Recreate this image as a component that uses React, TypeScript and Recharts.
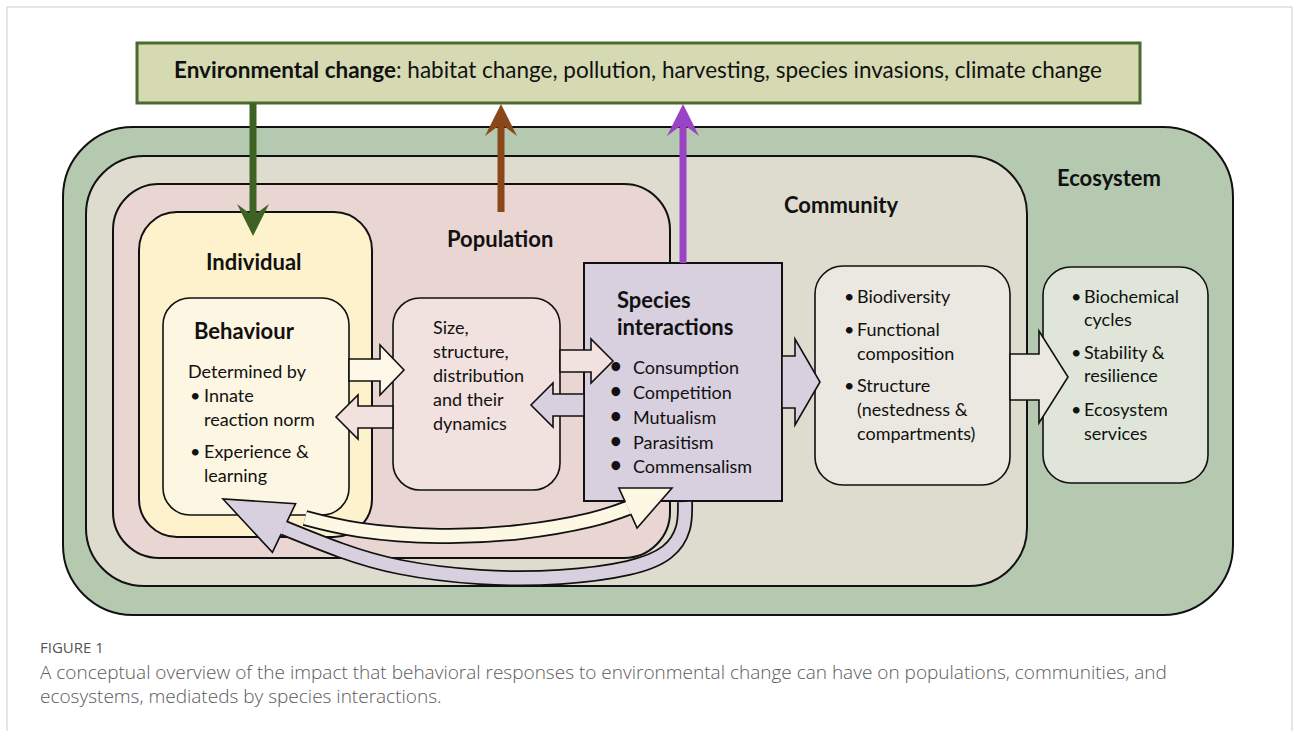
import React from "react";
import { ComposedChart, XAxis, YAxis, ReferenceArea, ReferenceLine, Line, Scatter } from "recharts";

const W = 1293;
const H = 731;
const FONT = "Lato, 'Open Sans', sans-serif";
const CAPTION_FONT = "'Open Sans', Lato, sans-serif";

// nested panels, drawn outer to inner
const panels = [
  { name: "env", x1: 137, y1: 43, x2: 1140, y2: 103, r: 0 },
  { name: "ecosystem", x1: 63, y1: 127, x2: 1233, y2: 615, r: 70 },
  { name: "community", x1: 86, y1: 156, x2: 1027, y2: 586, r: 58 },
  { name: "population", x1: 113, y1: 184, x2: 670, y2: 558, r: 46 },
  { name: "individual", x1: 139, y1: 212, x2: 372, y2: 537, r: 38 },
  { name: "behaviour", x1: 163, y1: 298, x2: 349, y2: 515, r: 27 },
  { name: "popBox", x1: 393, y1: 298, x2: 560, y2: 490, r: 27 },
  { name: "species", x1: 584, y1: 263, x2: 782, y2: 501, r: 0 },
  { name: "commBox", x1: 815, y1: 266, x2: 1010, y2: 485, r: 28 },
  { name: "ecoBox", x1: 1043, y1: 267, x2: 1208, y2: 483, r: 28 },
];

const panelStyle: Record<string, { fill: string; stroke: string; sw: number }> = {
  env: { fill: "#d5dab2", stroke: "#4b6a2b", sw: 3 },
  ecosystem: { fill: "#b5c9b0", stroke: "#111", sw: 2 },
  community: { fill: "#dedbcf", stroke: "#111", sw: 2 },
  population: { fill: "#e9d5d2", stroke: "#111", sw: 2 },
  individual: { fill: "#fdf2cc", stroke: "#111", sw: 2 },
  behaviour: { fill: "#fdf6e2", stroke: "#111", sw: 1.6 },
  popBox: { fill: "#f1e1df", stroke: "#111", sw: 1.6 },
  species: { fill: "#d8d0df", stroke: "#111", sw: 2 },
  commBox: { fill: "#eae8e0", stroke: "#111", sw: 1.6 },
  ecoBox: { fill: "#dfe6d9", stroke: "#111", sw: 1.6 },
};

// straight block arrows: tail -> tip
const blockArrows = [
  { from: [349, 370], to: [404, 370], kind: "cream" },
  { from: [393, 417], to: [336, 417], kind: "pink" },
  { from: [560, 361], to: [613, 361], kind: "pink" },
  { from: [584, 405], to: [531, 405], kind: "lavender" },
  { from: [782, 382], to: [820, 382], kind: "lavenderBig" },
  { from: [1010, 377], to: [1068, 377], kind: "greyBig" },
];

const blockStyle: Record<string, { fill: string; w: number; hw: number; hl: number }> = {
  cream: { fill: "#fdf8e8", w: 11, hw: 25, hl: 24 },
  pink: { fill: "#f1e1df", w: 11, hw: 22, hl: 22 },
  lavender: { fill: "#d8d0df", w: 11, hw: 22, hl: 22 },
  lavenderBig: { fill: "#d8d0df", w: 26, hw: 43, hl: 25 },
  greyBig: { fill: "#eae8e0", w: 23, hw: 46, hl: 29 },
};

// thin arrows between the environment box and the levels
const thinArrows = [
  { from: [253, 103], to: [253, 236], color: "#3d6223" },
  { from: [501, 212], to: [501, 104], color: "#8a4719" },
  { from: [683, 263], to: [683, 104], color: "#9a43c6" },
];

// curved feedback arrows (centre lines)
const lavenderCurve = [
  { x: 685, y: 502 }, { x: 683, y: 528 }, { x: 667, y: 552 }, { x: 628, y: 568 },
  { x: 560, y: 577 }, { x: 480, y: 577 }, { x: 400, y: 567 }, { x: 340, y: 550 }, { x: 284, y: 528 },
];
const creamCurve = [
  { x: 305, y: 518 }, { x: 360, y: 530 }, { x: 440, y: 536 }, { x: 520, y: 532 },
  { x: 590, y: 520 }, { x: 628, y: 508 },
];
const curveHeads = [
  { from: [284, 528], to: [223, 499], fill: "#d8d0df", w: 6.5, hw: 27 },
  { from: [628, 508], to: [672, 488], fill: "#fdf8e4", w: 6.5, hw: 22 },
];

const headings = [
  { x: 1057, y: 186, text: "Ecosystem" },
  { x: 784, y: 213, text: "Community" },
  { x: 447, y: 247, text: "Population" },
  { x: 206, y: 270, text: "Individual" },
  { x: 194, y: 339, text: "Behaviour" },
  { x: 617, y: 308, text: "Species" },
  { x: 617, y: 335, text: "interactions" },
];

const bodyLines = [
  { x: 188, y: 378, text: "Determined by" },
  { x: 204, y: 402, text: "Innate" },
  { x: 204, y: 426, text: "reaction norm" },
  { x: 204, y: 458, text: "Experience &" },
  { x: 204, y: 482, text: "learning" },
  { x: 433, y: 334, text: "Size," },
  { x: 433, y: 358, text: "structure," },
  { x: 433, y: 382, text: "distribution" },
  { x: 433, y: 406, text: "and their" },
  { x: 433, y: 430, text: "dynamics" },
  { x: 633, y: 374, text: "Consumption" },
  { x: 633, y: 399, text: "Competition" },
  { x: 633, y: 424, text: "Mutualism" },
  { x: 633, y: 449, text: "Parasitism" },
  { x: 633, y: 473, text: "Commensalism" },
  { x: 857, y: 303, text: "Biodiversity" },
  { x: 857, y: 336, text: "Functional" },
  { x: 857, y: 360, text: "composition" },
  { x: 857, y: 392, text: "Structure" },
  { x: 857, y: 416, text: "(nestedness &" },
  { x: 857, y: 440, text: "compartments)" },
  { x: 1084, y: 303, text: "Biochemical" },
  { x: 1084, y: 326, text: "cycles" },
  { x: 1084, y: 359, text: "Stability &" },
  { x: 1084, y: 382, text: "resilience" },
  { x: 1084, y: 416, text: "Ecosystem" },
  { x: 1084, y: 440, text: "services" },
];

const smallBullets = [
  { x: 190, y: 402 }, { x: 190, y: 458 },
  { x: 844, y: 303 }, { x: 844, y: 336 }, { x: 844, y: 392 },
  { x: 1071, y: 303 }, { x: 1071, y: 359 }, { x: 1071, y: 416 },
];
const bigBullets = [
  { x: 610, y: 373 }, { x: 610, y: 398 }, { x: 610, y: 423 }, { x: 610, y: 448 }, { x: 610, y: 472 },
];

const envTitle = { x: 174, y: 78, bold: "Environmental change", text: ": habitat change, pollution, harvesting, species invasions, climate change" };

const captionLines = [
  { x: 40, y: 653, text: "FIGURE 1", kind: "figLabel" },
  { x: 40, y: 679, text: "A conceptual overview of the impact that behavioral responses to environmental change can have on populations, communities, and", kind: "caption" },
  { x: 40, y: 703, text: "ecosystems, mediateds by species interactions.", kind: "caption" },
];

const frame = [
  [[7, 7], [7, 731]],
  [[7, 7], [1292, 7]],
  [[1292, 7], [1292, 731]],
];

const textStyle: Record<string, any> = {
  heading: { fontSize: 22, fontWeight: 700, fill: "#111", family: FONT },
  body: { fontSize: 18, fontWeight: 400, fill: "#111", family: FONT },
  dot: { fontSize: 18, fontWeight: 400, fill: "#111", family: FONT },
  bigDot: { fontSize: 20, fontWeight: 700, fill: "#111", family: FONT },
  env: { fontSize: 22.5, fontWeight: 400, fill: "#111", family: FONT },
  figLabel: { fontSize: 15, fontWeight: 400, fill: "#555", family: CAPTION_FONT },
  caption: { fontSize: 19, fontWeight: 300, fill: "#5a5a5a", family: CAPTION_FONT },
};

const textItems = [
  ...headings.map((d) => ({ ...d, kind: "heading" })),
  ...bodyLines.map((d) => ({ ...d, kind: "body" })),
  ...smallBullets.map((d) => ({ ...d, text: "•", kind: "dot" })),
  ...bigBullets.map((d) => ({ ...d, text: "•", kind: "bigDot" })),
  { ...envTitle, kind: "env" },
  ...captionLines,
];

function unit(x1: number, y1: number, x2: number, y2: number) {
  const L = Math.hypot(x2 - x1, y2 - y1) || 1;
  const ux = (x2 - x1) / L;
  const uy = (y2 - y1) / L;
  return { ux, uy, nx: -uy, ny: ux };
}

const pts = (a: number[][]) => a.map((p) => p.join(",")).join(" ");

function BlockArrow(props: any, kind: string) {
  const { x1, y1, x2, y2 } = props;
  const s = blockStyle[kind];
  const { ux, uy, nx, ny } = unit(x1, y1, x2, y2);
  const bx = x2 - ux * s.hl;
  const by = y2 - uy * s.hl;
  const poly = [
    [x1 + nx * s.w, y1 + ny * s.w],
    [bx + nx * s.w, by + ny * s.w],
    [bx + nx * s.hw, by + ny * s.hw],
    [x2, y2],
    [bx - nx * s.hw, by - ny * s.hw],
    [bx - nx * s.w, by - ny * s.w],
    [x1 - nx * s.w, y1 - ny * s.w],
  ];
  return <polygon points={pts(poly)} fill={s.fill} stroke="#111" strokeWidth={1.6} strokeLinejoin="miter" />;
}

function ThinArrow(props: any, color: string) {
  const { x1, y1, x2, y2 } = props;
  const { ux, uy, nx, ny } = unit(x1, y1, x2, y2);
  const hl = 32;
  const hw = 16;
  const notch = 20;
  const bx = x2 - ux * hl;
  const by = y2 - uy * hl;
  const mx = x2 - ux * notch;
  const my = y2 - uy * notch;
  return (
    <g>
      <line x1={x1} y1={y1} x2={mx} y2={my} stroke={color} strokeWidth={7} />
      <polygon points={pts([[x2, y2], [bx + nx * hw, by + ny * hw], [mx, my], [bx - nx * hw, by - ny * hw]])} fill={color} />
    </g>
  );
}

function CurveHead(props: any, h: { fill: string; w: number; hw: number }) {
  const { x1, y1, x2, y2 } = props;
  const { nx, ny } = unit(x1, y1, x2, y2);
  const a = [x1 + nx * h.hw, y1 + ny * h.hw];
  const b = [x1 - nx * h.hw, y1 - ny * h.hw];
  const aw = [x1 + nx * h.w, y1 + ny * h.w];
  const bw = [x1 - nx * h.w, y1 - ny * h.w];
  return (
    <g>
      <polygon points={pts([a, [x2, y2], b])} fill={h.fill} />
      <polyline points={pts([aw, a, [x2, y2], b, bw])} fill="none" stroke="#111" strokeWidth={1.6} />
    </g>
  );
}

function TextMark(props: any) {
  const { cx, cy, payload } = props;
  if (cx == null || cy == null) return <g />;
  const st = textStyle[payload.kind];
  return (
    <text x={cx} y={cy} fontFamily={st.family} fontSize={st.fontSize} fontWeight={st.fontWeight} fill={st.fill} textAnchor="start">
      {payload.bold ? (
        <>
          <tspan fontWeight={700}>{payload.bold}</tspan>
          <tspan>{payload.text}</tspan>
        </>
      ) : (
        payload.text
      )}
    </text>
  );
}

export default function App() {
  return (
    <div style={{ position: "absolute", left: 0, top: 0, width: W, height: H, background: "#fff" }}>
      <ComposedChart width={W} height={H} margin={{ top: 0, right: 0, bottom: 0, left: 0 }}>
        <XAxis type="number" dataKey="x" domain={[0, W]} hide allowDataOverflow />
        <YAxis type="number" dataKey="y" domain={[0, H]} reversed hide allowDataOverflow />

        {frame.map((seg, i) => (
          <ReferenceLine
            key={"f" + i}
            segment={[{ x: seg[0][0], y: seg[0][1] }, { x: seg[1][0], y: seg[1][1] }]}
            stroke="#cdcdcd"
            strokeWidth={1}
            ifOverflow="visible"
          />
        ))}

        {panels.map((p) => {
          const st = panelStyle[p.name];
          return (
            <ReferenceArea
              key={p.name}
              x1={p.x1}
              x2={p.x2}
              y1={p.y1}
              y2={p.y2}
              ifOverflow="visible"
              shape={(s: any) => (
                <rect
                  x={s.x}
                  y={s.y}
                  width={s.width}
                  height={s.height}
                  rx={p.r}
                  ry={p.r}
                  fill={st.fill}
                  stroke={st.stroke}
                  strokeWidth={st.sw}
                />
              )}
            />
          );
        })}

        {blockArrows.map((a, i) => (
          <ReferenceLine
            key={"b" + i}
            segment={[{ x: a.from[0], y: a.from[1] }, { x: a.to[0], y: a.to[1] }]}
            ifOverflow="visible"
            shape={(p: any) => BlockArrow(p, a.kind)}
          />
        ))}

        <Line data={lavenderCurve} dataKey="y" type="natural" stroke="#111" strokeWidth={16} dot={false} activeDot={false} isAnimationActive={false} />
        <Line data={lavenderCurve} dataKey="y" type="natural" stroke="#d8d0df" strokeWidth={12.5} dot={false} activeDot={false} isAnimationActive={false} />
        <Line data={creamCurve} dataKey="y" type="natural" stroke="#111" strokeWidth={16} dot={false} activeDot={false} isAnimationActive={false} />
        <Line data={creamCurve} dataKey="y" type="natural" stroke="#fdf8e4" strokeWidth={12.5} dot={false} activeDot={false} isAnimationActive={false} />

        {curveHeads.map((h, i) => (
          <ReferenceLine
            key={"h" + i}
            segment={[{ x: h.from[0], y: h.from[1] }, { x: h.to[0], y: h.to[1] }]}
            ifOverflow="visible"
            shape={(p: any) => CurveHead(p, h)}
          />
        ))}

        {thinArrows.map((a, i) => (
          <ReferenceLine
            key={"t" + i}
            segment={[{ x: a.from[0], y: a.from[1] }, { x: a.to[0], y: a.to[1] }]}
            ifOverflow="visible"
            shape={(p: any) => ThinArrow(p, a.color)}
          />
        ))}

        <Scatter data={textItems} dataKey="y" shape={(p: any) => <TextMark {...p} />} isAnimationActive={false} />
      </ComposedChart>
    </div>
  );
}
